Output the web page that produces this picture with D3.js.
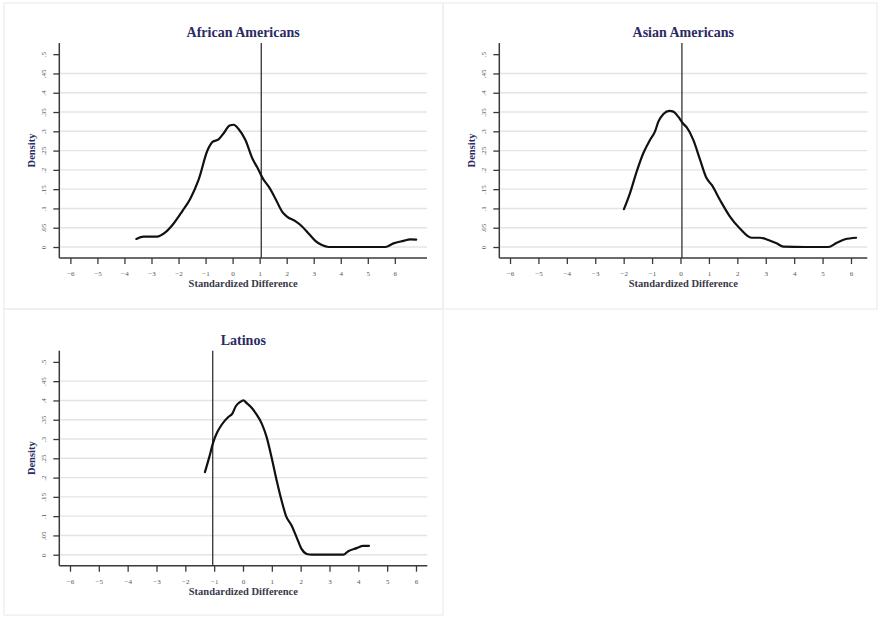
<!DOCTYPE html>
<html>
<head>
<meta charset="utf-8">
<script src="https://cdn.jsdelivr.net/npm/d3@7"></script>
<style>
  html, body { margin: 0; padding: 0; background: #fff; }
  svg { display: block; }
</style>
</head>
<body>
<svg id="chart" width="881" height="617"></svg>
<script>
// Kernel density curves of the standardized difference, one per group
const panelTitles = ["African Americans", "Asian Americans", "Latinos"];
const xTicks = [-6, -5, -4, -3, -2, -1, 0, 1, 2, 3, 4, 5, 6];
const yTicks = [0, 0.05, 0.1, 0.15, 0.2, 0.25, 0.3, 0.35, 0.4, 0.45, 0.5];
const yTickLabels = ["0", ".05", ".1", ".15", ".2", ".25", ".3", ".35", ".4", ".45", ".5"];
const referenceLines = [1.06, 0.05, -1.05];

const africanAmericans = [
  [-3.56, 0.021], [-3.29, 0.027], [-2.80, 0.027], [-2.49, 0.038], [-2.18, 0.061],
  [-1.87, 0.092], [-1.56, 0.126], [-1.26, 0.174], [-0.92, 0.252], [-0.73, 0.273],
  [-0.52, 0.279], [-0.33, 0.295], [-0.11, 0.315], [0.04, 0.317], [0.22, 0.306],
  [0.47, 0.278], [0.74, 0.228], [0.90, 0.208], [1.15, 0.174], [1.33, 0.157],
  [1.58, 0.126], [1.83, 0.092], [2.01, 0.079], [2.32, 0.067], [2.56, 0.054],
  [2.81, 0.035], [3.06, 0.016], [3.30, 0.005], [3.55, 0.0], [4.5, 0.0],
  [5.65, 0.0], [5.95, 0.0095], [6.32, 0.016], [6.57, 0.020], [6.79, 0.019]
];
const asianAmericans = [
  [-1.99, 0.098], [-1.78, 0.139], [-1.54, 0.196], [-1.31, 0.243], [-1.07, 0.278],
  [-0.90, 0.299], [-0.78, 0.325], [-0.60, 0.345], [-0.39, 0.353], [-0.25, 0.351],
  [-0.08, 0.338], [0.08, 0.321], [0.22, 0.310], [0.45, 0.278], [0.69, 0.226],
  [0.92, 0.178], [1.10, 0.161], [1.39, 0.122], [1.74, 0.079], [2.09, 0.048],
  [2.50, 0.024], [2.80, 0.024], [3.09, 0.018], [3.38, 0.0095], [3.62, 0.001],
  [4.4, 0.0], [5.20, 0.0], [5.50, 0.011], [5.79, 0.020], [6.18, 0.024]
];
const latinos = [
  [-1.32, 0.214], [-1.17, 0.253], [-1.03, 0.292], [-0.89, 0.318], [-0.74, 0.337],
  [-0.51, 0.357], [-0.37, 0.366], [-0.25, 0.385], [-0.10, 0.396], [0.01, 0.400],
  [0.13, 0.393], [0.30, 0.381], [0.45, 0.366], [0.65, 0.340], [0.82, 0.305],
  [0.99, 0.253], [1.17, 0.192], [1.34, 0.140], [1.49, 0.101], [1.69, 0.075],
  [1.86, 0.045], [2.03, 0.015], [2.21, 0.002], [2.38, 0.0], [3.0, 0.0],
  [3.48, 0.0], [3.65, 0.009], [3.94, 0.017], [4.17, 0.023], [4.37, 0.023]
];

// Panel frames and plot regions (pixel layout of each graph)
const panels = [
  { title: panelTitles[0], data: africanAmericans, ref: referenceLines[0],
    frame: [4, 3, 439, 306], left: 59.3, right: 427, top: 43, bottom: 258,
    xDomain: [-6.41, 7.19] },
  { title: panelTitles[1], data: asianAmericans, ref: referenceLines[1],
    frame: [443, 3, 434, 306], left: 499.3, right: 867.3, top: 43, bottom: 258,
    xDomain: [-6.377, 6.574] },
  { title: panelTitles[2], data: latinos, ref: referenceLines[2],
    frame: [4, 309, 439, 306], left: 59.3, right: 427.3, top: 350.7, bottom: 565.7,
    xDomain: [-6.371, 6.392] }
];

const svg = d3.select("#chart");
const serif = "'Liberation Serif', 'DejaVu Serif', serif";
const navy = "#2b2b63";

panels.forEach(p => {
  const g = svg.append("g");

  // faint panel frame
  g.append("rect")
    .attr("x", p.frame[0]).attr("y", p.frame[1])
    .attr("width", p.frame[2]).attr("height", p.frame[3])
    .attr("fill", "none").attr("stroke", "#f0f0f0").attr("stroke-width", 1.5);

  const x = d3.scaleLinear().domain(p.xDomain).range([p.left, p.right]);
  // y = 0 sits 11px above the x axis, .5 sits about 11px below the top of the y axis
  const y = d3.scaleLinear().domain([-0.0285, 0.529]).range([p.bottom, p.top]);

  // horizontal grid lines
  g.append("g").selectAll("line")
    .data(yTicks.filter(v => v < 0.5))
    .join("line")
    .attr("x1", p.left + 1).attr("x2", p.right)
    .attr("y1", d => y(d)).attr("y2", d => y(d))
    .attr("stroke", "#e4e4e4").attr("stroke-width", 1.4);

  // y axis
  const yAxis = d3.axisLeft(y).tickValues(yTicks)
    .tickFormat((d, i) => yTickLabels[i]).tickSize(6).tickPadding(6);
  const ya = g.append("g").attr("transform", `translate(${p.left},0)`).call(yAxis);
  ya.select(".domain").attr("d", `M0,${p.top}V${p.bottom}`)
    .attr("stroke", "#3a3a3a").attr("stroke-width", 1.5);
  ya.selectAll(".tick line").attr("stroke", "#3a3a3a").attr("stroke-width", 1.3);
  ya.selectAll(".tick text")
    .attr("font-family", serif).attr("font-size", 7).attr("fill", "#555")
    .attr("x", null).attr("dy", null)
    .attr("text-anchor", "middle")
    .attr("transform", "translate(-15,0) rotate(-90)")
    .attr("dominant-baseline", "central");

  // x axis
  const xAxis = d3.axisBottom(x).tickValues(xTicks).tickSize(6).tickPadding(7);
  const xa = g.append("g").attr("transform", `translate(0,${p.bottom})`).call(xAxis);
  xa.select(".domain").attr("d", `M${p.left},0H${p.right}`)
    .attr("stroke", "#3a3a3a").attr("stroke-width", 1.5);
  xa.selectAll(".tick line").attr("stroke", "#3a3a3a").attr("stroke-width", 1.3);
  xa.selectAll(".tick text")
    .attr("font-family", serif).attr("font-size", 7).attr("fill", "#555");

  // reference line
  g.append("line")
    .attr("x1", x(p.ref)).attr("x2", x(p.ref))
    .attr("y1", p.top).attr("y2", p.bottom)
    .attr("stroke", "#333").attr("stroke-width", 1.3);

  // density curve
  const line = d3.line()
    .x(d => x(d[0])).y(d => y(d[1]))
    .curve(d3.curveMonotoneX);
  g.append("path").datum(p.data)
    .attr("d", line)
    .attr("fill", "none").attr("stroke", "#111")
    .attr("stroke-width", 2.2).attr("stroke-linejoin", "round").attr("stroke-linecap", "round");

  const cx = (p.left + p.right) / 2;

  // title
  g.append("text")
    .attr("x", cx).attr("y", p.top - 6)
    .attr("text-anchor", "middle")
    .attr("font-family", serif).attr("font-weight", "bold").attr("font-size", 14)
    .attr("fill", navy)
    .text(p.title);

  // axis titles
  g.append("text")
    .attr("x", cx).attr("y", p.bottom + 29)
    .attr("text-anchor", "middle")
    .attr("font-family", serif).attr("font-weight", "bold").attr("font-size", 10.5)
    .attr("fill", "#3a3a4a")
    .text("Standardized Difference");

  g.append("text")
    .attr("transform", `translate(${p.left - 24},${(p.top + p.bottom) / 2}) rotate(-90)`)
    .attr("text-anchor", "middle")
    .attr("font-family", serif).attr("font-weight", "bold").attr("font-size", 10.5)
    .attr("fill", navy)
    .text("Density");
});
</script>
</body>
</html>
